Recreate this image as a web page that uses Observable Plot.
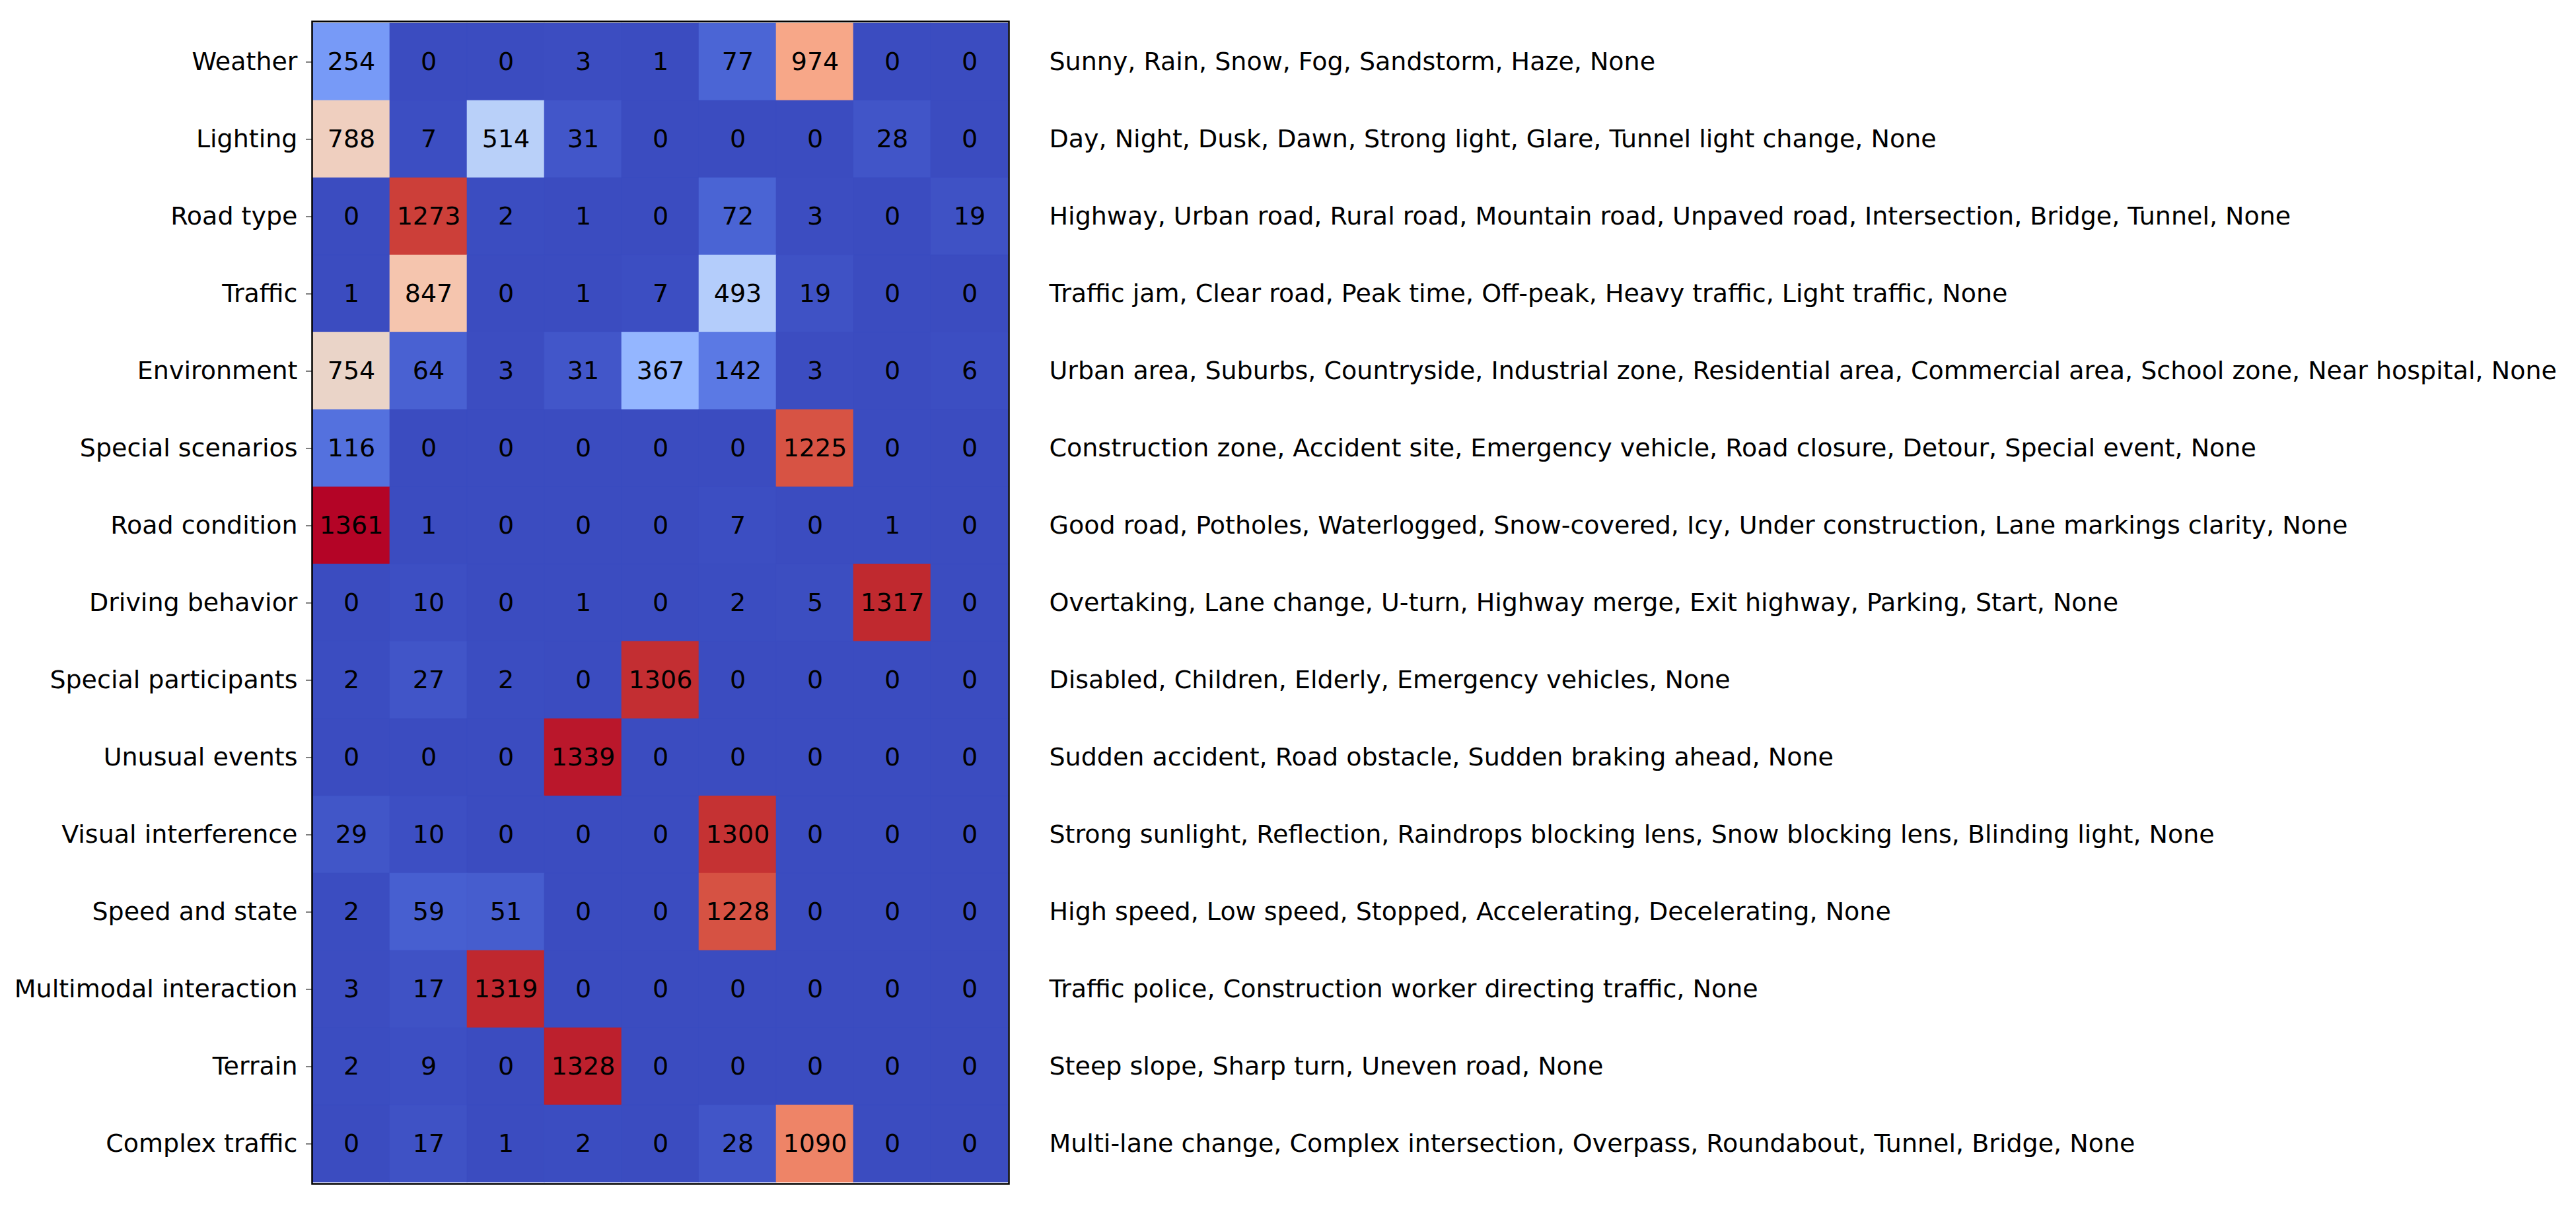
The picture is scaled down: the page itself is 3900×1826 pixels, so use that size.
<!DOCTYPE html>
<html>
<head>
<meta charset="utf-8">
<script src="https://cdn.jsdelivr.net/npm/d3@7"></script>
<script src="https://cdn.jsdelivr.net/npm/@observablehq/plot@0.6"></script>
<style>
  html, body { margin: 0; padding: 0; background: #fff; }
  #chart svg { display: block; }
</style>
</head>
<body>
<div id="chart"></div>
<script>
const categories = [
  "Weather", "Lighting", "Road type", "Traffic", "Environment",
  "Special scenarios", "Road condition", "Driving behavior",
  "Special participants", "Unusual events", "Visual interference",
  "Speed and state", "Multimodal interaction", "Terrain", "Complex traffic"
];

const columns = [0, 1, 2, 3, 4, 5, 6, 7, 8];

const counts = [
  [254, 0, 0, 3, 1, 77, 974, 0, 0],
  [788, 7, 514, 31, 0, 0, 0, 28, 0],
  [0, 1273, 2, 1, 0, 72, 3, 0, 19],
  [1, 847, 0, 1, 7, 493, 19, 0, 0],
  [754, 64, 3, 31, 367, 142, 3, 0, 6],
  [116, 0, 0, 0, 0, 0, 1225, 0, 0],
  [1361, 1, 0, 0, 0, 7, 0, 1, 0],
  [0, 10, 0, 1, 0, 2, 5, 1317, 0],
  [2, 27, 2, 0, 1306, 0, 0, 0, 0],
  [0, 0, 0, 1339, 0, 0, 0, 0, 0],
  [29, 10, 0, 0, 0, 1300, 0, 0, 0],
  [2, 59, 51, 0, 0, 1228, 0, 0, 0],
  [3, 17, 1319, 0, 0, 0, 0, 0, 0],
  [2, 9, 0, 1328, 0, 0, 0, 0, 0],
  [0, 17, 1, 2, 0, 28, 1090, 0, 0]
];

const descriptions = [
  "Sunny, Rain, Snow, Fog, Sandstorm, Haze, None",
  "Day, Night, Dusk, Dawn, Strong light, Glare, Tunnel light change, None",
  "Highway, Urban road, Rural road, Mountain road, Unpaved road, Intersection, Bridge, Tunnel, None",
  "Traffic jam, Clear road, Peak time, Off-peak, Heavy traffic, Light traffic, None",
  "Urban area, Suburbs, Countryside, Industrial zone, Residential area, Commercial area, School zone, Near hospital, None",
  "Construction zone, Accident site, Emergency vehicle, Road closure, Detour, Special event, None",
  "Good road, Potholes, Waterlogged, Snow-covered, Icy, Under construction, Lane markings clarity, None",
  "Overtaking, Lane change, U-turn, Highway merge, Exit highway, Parking, Start, None",
  "Disabled, Children, Elderly, Emergency vehicles, None",
  "Sudden accident, Road obstacle, Sudden braking ahead, None",
  "Strong sunlight, Reflection, Raindrops blocking lens, Snow blocking lens, Blinding light, None",
  "High speed, Low speed, Stopped, Accelerating, Decelerating, None",
  "Traffic police, Construction worker directing traffic, None",
  "Steep slope, Sharp turn, Uneven road, None",
  "Multi-lane change, Complex intersection, Overpass, Roundabout, Tunnel, Bridge, None"
];

// coolwarm colormap stops (Moreland diverging map)
const coolwarmStops = [
  "rgb(59,76,192)", "rgb(68,90,204)", "rgb(77,104,215)", "rgb(87,117,225)",
  "rgb(98,130,234)", "rgb(108,142,241)", "rgb(119,154,247)", "rgb(130,165,251)",
  "rgb(141,176,254)", "rgb(152,185,255)", "rgb(163,194,255)", "rgb(174,201,253)",
  "rgb(184,208,249)", "rgb(194,213,244)", "rgb(204,217,238)", "rgb(213,219,230)",
  "rgb(221,221,221)", "rgb(229,216,209)", "rgb(236,211,197)", "rgb(241,204,185)",
  "rgb(245,196,173)", "rgb(247,187,160)", "rgb(247,177,148)", "rgb(247,166,135)",
  "rgb(244,154,123)", "rgb(241,141,111)", "rgb(236,127,99)", "rgb(229,112,88)",
  "rgb(222,96,77)", "rgb(213,80,66)", "rgb(203,62,56)", "rgb(192,40,47)",
  "rgb(180,4,38)"
];
const coolwarm = d3.piecewise(d3.interpolateRgb, coolwarmStops);

const cells = [];
categories.forEach((cat, i) => {
  columns.forEach((col, j) => {
    cells.push({category: cat, column: col, value: counts[i][j]});
  });
});
const labels = categories.map((cat, i) => ({category: cat, text: descriptions[i]}));

const maxValue = d3.max(cells, d => d.value);

const chart = Plot.plot({
  width: 3900,
  height: 1826,
  marginLeft: 472,
  marginRight: 2373,
  marginTop: 32,
  marginBottom: 34,
  style: {fontFamily: "DejaVu Sans", fontSize: "38px", color: "#000", background: "#fff"},
  x: {domain: columns, axis: null, padding: 0},
  y: {domain: categories, padding: 0, tickSize: 9, tickPadding: 13, label: null},
  color: {type: "linear", domain: [0, maxValue], interpolate: coolwarm},
  marks: [
    Plot.cell(cells, {x: "column", y: "category", fill: "value", stroke: "value", strokeWidth: 0.6}),
    Plot.text(cells, {x: "column", y: "category", text: d => String(d.value), fill: "black", fontSize: 38}),
    Plot.text(labels, {y: "category", text: "text", frameAnchor: "right", textAnchor: "start", dx: 61, fill: "black", fontSize: 38}),
    Plot.frame({stroke: "black", strokeWidth: 2.5})
  ]
});

document.getElementById("chart").appendChild(chart);
</script>
</body>
</html>
